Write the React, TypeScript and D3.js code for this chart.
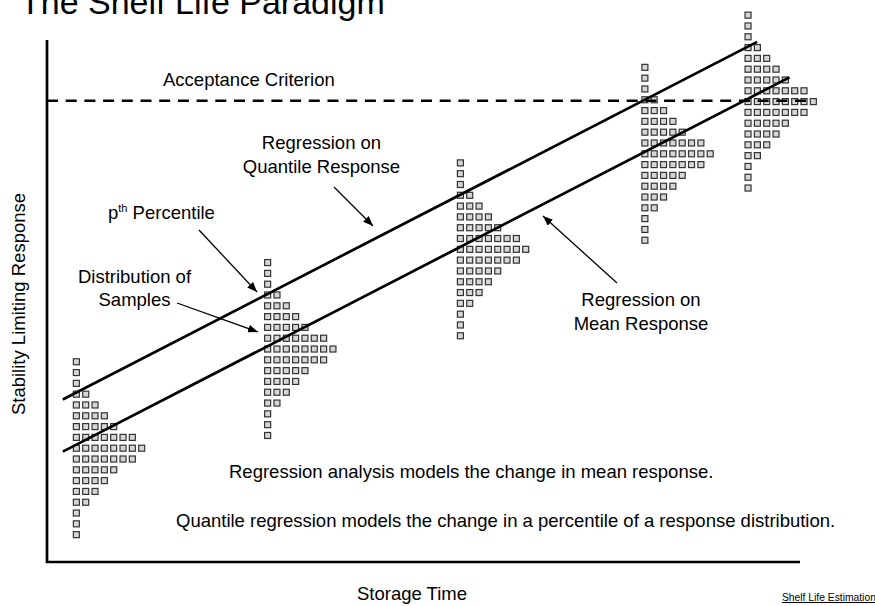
import React from "react";
import * as d3 from "d3";

// ---- data ----
// time points at which samples were drawn (time units, 0..10 across the axis)
const sampleTimes = [0.39, 2.93, 5.49, 7.94, 9.31];
// centre (modal bin) of each sample distribution (response units, 0..10)
const sampleCenters = [2.18, 4.08, 5.99, 7.82, 8.82];
// number of samples per bin, from the highest-response bin down to the lowest
const binCounts = [1, 1, 1, 2, 3, 4, 5, 7, 8, 7, 5, 4, 3, 2, 1, 1, 1];
const binWidth = 0.207; // response units per bin

// regression on mean response: response = intercept + slope * time
const meanIntercept = 1.958;
const meanSlope = 0.743;
const meanRange = [0.21, 9.86];
// regression on quantile response (p-th percentile) – parallel, shifted up
const quantileOffset = 1.0;
const quantileRange = [0.21, 9.43];
// acceptance criterion
const acceptance = 8.837;
const acceptanceRange = [0, 10.16];

const title = "The Shelf Life Paradigm";
const xLabel = "Storage Time";
const yLabel = "Stability Limiting Response";
const footer = "Shelf Life Estimation";

const W = 875;
const H = 606;
const FONT = "'Liberation Sans', Arial, Helvetica, sans-serif";

export default function App() {
  const x = d3.scaleLinear().domain([0, 10]).range([47, 800]);
  const y = d3.scaleLinear().domain([0, 10]).range([562, 40]);

  const sq = 6.0; // square size
  const colPitch = 9.33;

  const line = d3
    .line<number>()
    .x((t) => x(t))
    .y((t) => y(meanIntercept + meanSlope * t));
  const qline = d3
    .line<number>()
    .x((t) => x(t))
    .y((t) => y(meanIntercept + quantileOffset + meanSlope * t));

  const squares: { key: string; cx: number; cy: number }[] = [];
  sampleTimes.forEach((t, h) => {
    const mid = Math.floor(binCounts.length / 2);
    binCounts.forEach((n, i) => {
      const r = sampleCenters[h] + (mid - i) * binWidth;
      for (let c = 0; c < n; c++) {
        squares.push({ key: `${h}-${i}-${c}`, cx: x(t) + c * colPitch, cy: y(r) });
      }
    });
  });

  const ts = 18.5;

  return (
    <svg
      width={W}
      height={H}
      style={{ position: "absolute", left: 0, top: 0, background: "#fff" }}
      fontFamily={FONT}
    >
      <defs>
        <marker
          id="ah"
          viewBox="0 0 10 8"
          refX="10"
          refY="4"
          markerWidth="10"
          markerHeight="8"
          markerUnits="userSpaceOnUse"
          orient="auto"
        >
          <path d="M0,0 L10,4 L0,8 Z" fill="#000" />
        </marker>
      </defs>
      <rect width={W} height={H} fill="#fff" />
      <text x={20} y={13.5} fontSize={34} fill="#000">
        {title}
      </text>

      {/* axes */}
      <line x1={x(0)} y1={y(10)} x2={x(0)} y2={y(0) + 1} stroke="#000" strokeWidth={2.7} />
      <line x1={x(0) - 1} y1={y(0)} x2={x(10)} y2={y(0)} stroke="#000" strokeWidth={2.7} />

      {/* histograms */}
      {squares.map((s) => (
        <rect
          key={s.key}
          x={s.cx - sq / 2}
          y={s.cy - sq / 2}
          width={sq}
          height={sq}
          fill="#d6d6d6"
          stroke="#333"
          strokeWidth={1.2}
        />
      ))}

      {/* acceptance criterion */}
      <line
        x1={x(acceptanceRange[0])}
        x2={x(acceptanceRange[1])}
        y1={y(acceptance)}
        y2={y(acceptance)}
        stroke="#000"
        strokeWidth={2.6}
        strokeDasharray="11 7.7"
      />

      {/* regression lines */}
      <path d={line(meanRange) || ""} stroke="#000" strokeWidth={2.7} fill="none" />
      <path d={qline(quantileRange) || ""} stroke="#000" strokeWidth={2.7} fill="none" />

      {/* arrows */}
      <g stroke="#000" strokeWidth={1.3}>
        <line x1={334} y1={187} x2={373} y2={226} markerEnd="url(#ah)" />
        <line x1={199} y1={230} x2={257} y2={292} markerEnd="url(#ah)" />
        <line x1={177} y1={303} x2={258} y2={332} markerEnd="url(#ah)" />
        <line x1={617} y1={283} x2={543} y2={216} markerEnd="url(#ah)" />
      </g>

      {/* annotations */}
      <g fontSize={ts} fill="#000">
        <text x={163} y={86}>Acceptance Criterion</text>
        <text x={321.5} y={149} textAnchor="middle">Regression on</text>
        <text x={321.5} y={173} textAnchor="middle">Quantile Response</text>
        <text x={108} y={219}>
          p<tspan fontSize={11} dy={-7}>th</tspan>
          <tspan dy={7}> Percentile</tspan>
        </text>
        <text x={134.5} y={283} textAnchor="middle">Distribution of</text>
        <text x={134.5} y={306} textAnchor="middle">Samples</text>
        <text x={641} y={306} textAnchor="middle">Regression on</text>
        <text x={641} y={330} textAnchor="middle">Mean Response</text>
        <text x={229} y={478}>Regression analysis models the change in mean response.</text>
        <text x={176} y={527}>
          Quantile regression models the change in a percentile of a response distribution.
        </text>
        <text x={412} y={600} textAnchor="middle">{xLabel}</text>
        <text transform="translate(25,304) rotate(-90)" textAnchor="middle">
          {yLabel}
        </text>
      </g>
      <text x={782} y={601} fontSize={10.3} textDecoration="underline" fill="#000">
        {footer}
      </text>
    </svg>
  );
}
